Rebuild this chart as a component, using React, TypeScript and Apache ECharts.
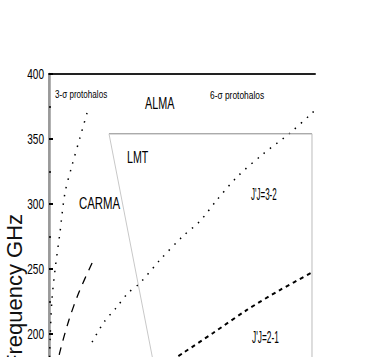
import React, { useEffect, useRef } from "react";
import * as echarts from "echarts";

// y axis (frequency, GHz)
const yMin = 150;
const yMax = 400;
const yStep = 50;
const yTickLabels = [200, 250, 300, 350, 400];
// x axis (arbitrary units; labels are outside the visible crop)
const xMin = 0;
const xMax = 10;

// 3-sigma protohalos, J'J=3-2 (dotted, steep)
const s3DotX = [1.43, 1.17, 0.87, 0.6, 0.41, 0.23, 0.11, 0.04, 0.01];
const s3DotY = [370.0, 351.5, 330.0, 308.5, 277.7, 250.0, 226.2, 195.4, 172.0];
// 3-sigma protohalos, J'J=2-1 (dashed)
const s3DashX = [1.62, 1.13, 0.75, 0.41, 0.23];
const s3DashY = [254.6, 232.3, 210.8, 186.2, 168.5];
// 6-sigma protohalos, J'J=3-2 (dotted)
const s6DotX = [1.62, 2.07, 2.52, 2.97, 3.42, 4.17, 5.0, 5.68, 6.28, 7.07, 8.05, 9.06, 9.89, 10.0];
const s6DotY = [193.8, 209.2, 220.0, 231.5, 239.2, 256.9, 274.6, 286.9, 302.3, 320.8, 338.5, 354.6, 370.0, 372.3];
// 6-sigma protohalos, J'J=2-1 (dashed)
const s6DashX = [4.36, 5.04, 6.17, 7.44, 8.68, 9.9];
const s6DashY = [176.2, 185.4, 200.8, 218.5, 233.8, 247.5];
// LMT coverage outline
const lmtTopX = [2.256, 9.887];
const lmtTopY = [354, 354];
const lmtDiagX = [2.256, 4.19];
const lmtDiagY = [354, 150];
const lmtRightX = [9.887, 9.887];
const lmtRightY = [354, 150];

const zip = (xs: number[], ys: number[]) => xs.map((x, i) => [x, ys[i]]);

const SANS = "'Liberation Sans', Arial, sans-serif";

export default function App() {
  const ref = useRef<HTMLDivElement>(null);
  useEffect(() => {
    if (!ref.current) return;
    const chart = echarts.init(ref.current, undefined, { renderer: "svg" });
    const lineBase = { type: "line" as const, symbol: "none", silent: true };
    const txt = (
      text: string,
      x: number,
      y: number,
      size: number,
      sx: number,
      sy = 1,
      align = "left"
    ) => ({
      type: "text",
      x,
      y,
      scaleX: sx,
      scaleY: sy,
      style: {
        text,
        fill: "#000",
        font: `${size}px ${SANS}`,
        align,
        verticalAlign: "middle",
      },
    });
    chart.setOption({
      animation: false,
      backgroundColor: "#fff",
      grid: { left: 49, right: 54, top: 74, height: 325, outerBoundsMode: "none", containLabel: false },
      xAxis: [
        { type: "value", min: xMin, max: xMax, show: false },
        {
          type: "value",
          min: xMin,
          max: xMax,
          position: "top",
          axisLine: { show: true, lineStyle: { color: "#222", width: 2 } },
          axisTick: { show: false },
          axisLabel: { show: false },
          splitLine: { show: false },
        },
      ],
      yAxis: [
        {
          type: "value",
          min: yMin,
          max: yMax,
          interval: yStep,
          position: "left",
          axisLine: { show: true, lineStyle: { color: "#888", width: 1.5 } },
          axisTick: { show: true, inside: true, length: 4, lineStyle: { color: "#000", width: 2 } },
          minorTick: { show: true, splitNumber: 2, length: 2, lineStyle: { color: "#000", width: 1.5 } },
          axisLabel: { show: false },
          splitLine: { show: false },
        },
        {
          type: "value",
          min: yMin,
          max: yMax,
          position: "right",
          axisLine: { show: true, lineStyle: { color: "#999", width: 2.5 } },
          axisTick: { show: false },
          axisLabel: { show: false },
          splitLine: { show: false },
        },
      ],
      series: [
        { ...lineBase, data: zip(s3DotX, s3DotY), smooth: 0.3, lineStyle: { color: "#000", width: 1.5, type: [1.5, 7] } },
        { ...lineBase, data: zip(s3DashX, s3DashY), smooth: 0.3, lineStyle: { color: "#000", width: 1.3, type: [8, 7] } },
        { ...lineBase, data: zip(s6DotX, s6DotY), smooth: 0.3, lineStyle: { color: "#000", width: 1.5, type: [1.5, 6.5] } },
        { ...lineBase, data: zip(s6DashX, s6DashY), smooth: 0.3, lineStyle: { color: "#000", width: 2, type: [4, 4] } },
        { ...lineBase, data: zip(lmtTopX, lmtTopY), lineStyle: { color: "#888", width: 1 } },
        { ...lineBase, data: zip(lmtDiagX, lmtDiagY), lineStyle: { color: "#c8c8c8", width: 1 } },
        { ...lineBase, data: zip(lmtRightX, lmtRightY), lineStyle: { color: "#bbb", width: 1 } },
      ],
    });

    // tick labels placed through the axis scale, drawn condensed like the original
    const tickTexts = yTickLabels.map((v) => {
      const py = chart.convertToPixel({ yAxisIndex: 0 }, v) as number;
      return txt(String(v), 44, py, 14, 0.72, 1.05, "right");
    });

    chart.setOption({
      graphic: [
        ...tickTexts,
        txt("3-\u03c3 protohalos", 55, 94, 10, 0.81, 1.1),
        txt("6-\u03c3 protohalos", 210, 95, 10, 0.84, 1.1),
        txt("ALMA", 145, 104, 15, 0.72, 1.05),
        txt("LMT", 127, 158, 15, 0.71, 1.05),
        txt("CARMA", 79, 204, 15, 0.76, 1.05),
        txt("J'J=3-2", 251, 195, 16, 0.5, 1),
        txt("J'J=2-1", 252, 337, 16, 0.52, 1),
        {
          type: "text",
          x: 14,
          y: 291,
          rotation: Math.PI / 2,
          style: {
            text: "Frequency GHz",
            fill: "#111",
            font: `22px ${SANS}`,
            align: "center",
            verticalAlign: "middle",
          },
        },
      ],
    });
    return () => chart.dispose();
  }, []);
  return (
    <div
      ref={ref}
      style={{ position: "fixed", left: 0, top: 0, width: 369, height: 357, background: "#fff" }}
    />
  );
}
